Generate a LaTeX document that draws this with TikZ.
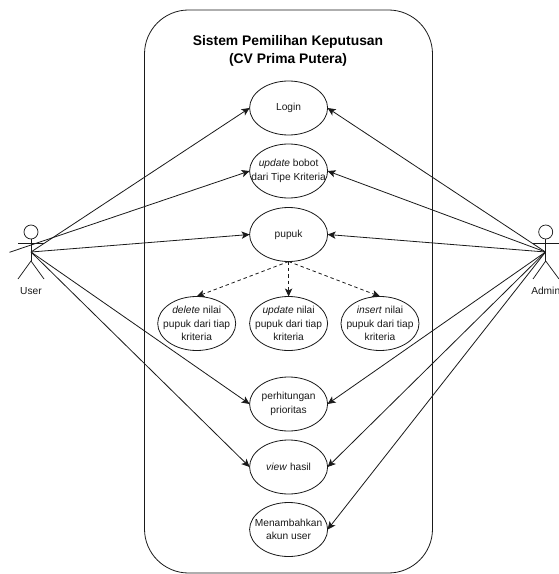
\documentclass[tikz,border=0pt]{standalone}
\usepackage{fontspec}
\setmainfont{Liberation Sans}
\usetikzlibrary{shapes.geometric,arrows.meta}
\definecolor{ink}{HTML}{1A1A1A}
\tikzset{
  px/.style={x=0.75pt,y=-0.75pt},
  usecase/.style={ellipse,draw=ink,line width=0.6pt,minimum width=58.5pt,minimum height=40.5pt,inner sep=0pt,outer sep=0pt},
  uctext/.style={font=\fontsize{7.65}{10}\selectfont,align=center,text=ink,inner sep=0pt},
  assoc/.style={draw=ink,line width=0.6pt,-{Stealth[length=6pt,width=5.5pt,inset=1.5pt]}},
  incl/.style={assoc,dashed,dash pattern=on 2.6pt off 2.2pt},
  stick/.style={draw=ink,line width=0.55pt},
  head/.style={circle,draw=ink,line width=0.55pt,minimum size=10.5pt,inner sep=0pt,outer sep=0pt},
  actorname/.style={font=\fontsize{7.65}{10}\selectfont,text=ink,inner sep=0pt},
  titletext/.style={font=\bfseries\fontsize{10.4}{13.75}\selectfont,align=center,text=black,inner sep=0pt},
  sysbox/.style={draw=ink,line width=0.6pt,rounded corners=33pt}
}
\begin{document}
\begin{tikzpicture}[px]
\useasboundingbox (0,0) rectangle (559,574);
\fill[white] (0,0) rectangle (559,574);
\draw[sysbox] (144.5,10) rectangle (432.5,573);
\node[titletext] (title) at (288,51) {Sistem Pemilihan Keputusan\\(CV Prima Putera)};

\node[usecase,label={[uctext,name=tlogin]center:Login}] (login) at (288.6,108) {};
\node[usecase,label={[uctext,name=tbobot]center:\textit{update} bobot\\dari Tipe Kriteria}] (bobot) at (288.6,171) {};
\node[usecase,label={[uctext,name=tpupuk]center:pupuk}] (pupuk) at (288.6,234.5) {};
\node[usecase,label={[uctext,name=tdel]center:\textit{delete} nilai\\pupuk dari tiap\\kriteria}] (del) at (196.7,323.5) {};
\node[usecase,label={[uctext,name=tupd]center:\textit{update} nilai\\pupuk dari tiap\\kriteria}] (upd) at (288.6,323.5) {};
\node[usecase,label={[uctext,name=tins]center:\textit{insert} nilai\\pupuk dari tiap\\kriteria}] (ins) at (380,323.5) {};
\node[usecase,label={[uctext,name=tprior]center:perhitungan\\prioritas}] (prior) at (288.6,404) {};
\node[usecase,label={[uctext,name=tview]center:\textit{view} hasil}] (view) at (288.6,467) {};
\node[usecase,label={[uctext,name=takun]center:Menambahkan\\akun user}] (akun) at (288.6,529.5) {};

% User actor
\node[head] (uhead) at (31,232) {};
\coordinate (uhub) at (31,252);
\coordinate (ufree) at (9.5,252.3);
\coordinate (uarmL) at (18,243);
\coordinate (uarmR) at (44,243);
\coordinate (uhip) at (31,261);
\coordinate (ulegL) at (18,279);
\coordinate (ulegR) at (44,279);
\draw[stick] (uhead.south) -- (uhip);
\draw[stick] (uarmL) -- (uarmR);
\draw[stick] (ulegL) -- (uhip) -- (ulegR);
\node[actorname] (uname) at (31,291) {User};

% Admin actor
\node[head] (ahead) at (545.7,232) {};
\coordinate (ahub) at (545.5,252);
\coordinate (aarmL) at (533,243);
\coordinate (aarmR) at (559,243);
\coordinate (ahip) at (545.7,261);
\coordinate (alegL) at (533,279);
\coordinate (alegR) at (559,279);
\draw[stick] (ahead.south) -- (ahip);
\draw[stick] (aarmL) -- (aarmR);
\draw[stick] (alegL) -- (ahip) -- (alegR);
\node[actorname,anchor=west] (aname) at (531,291) {Admin};

% User connectors
\draw[assoc] (uhub) -- (login.west);
\draw[assoc] (ufree) -- (bobot.west);
\draw[assoc] (uhub) -- (pupuk.west);
\draw[assoc] (uhub) -- (prior.west);
\draw[assoc] (uhub) -- (view.west);

% Admin connectors
\draw[assoc] (ahub) -- (login.east);
\draw[assoc] (ahub) -- (bobot.east);
\draw[assoc] (ahub) -- (pupuk.east);
\draw[assoc] (ahub) -- (prior.east);
\draw[assoc] (ahub) -- (view.east);
\draw[assoc] (ahub) -- (akun.east);

% Dashed
\draw[incl] (pupuk.south) -- (del.north);
\draw[incl] (pupuk.south) -- (upd.north);
\draw[incl] (pupuk.south) -- (ins.north);
\end{tikzpicture}
\end{document}
